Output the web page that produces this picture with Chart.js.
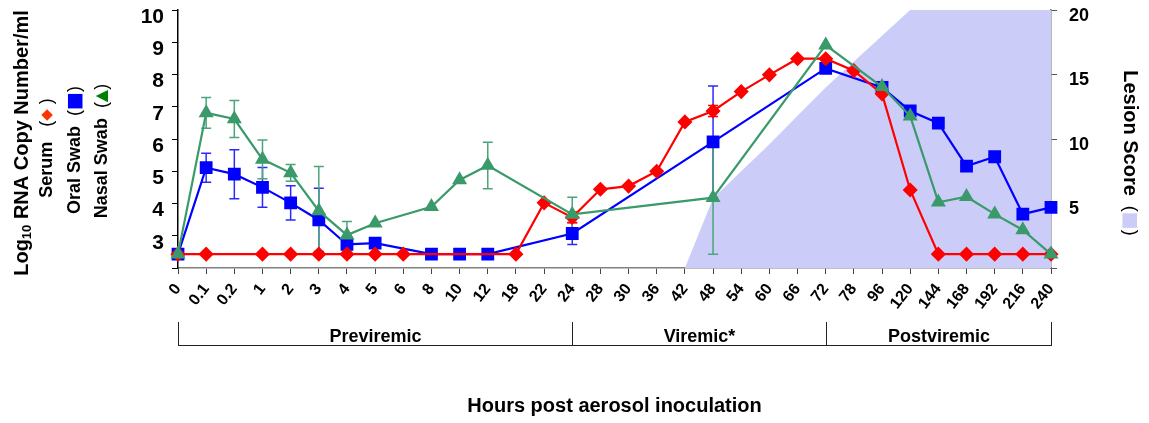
<!DOCTYPE html>
<html>
<head>
<meta charset="utf-8">
<script src="https://cdn.jsdelivr.net/npm/chart.js@4/dist/chart.umd.min.js"></script>
<style>
  body { margin: 0; background: #fff; }
  #wrap { position: relative; width: 1149px; height: 423px; }
</style>
</head>
<body>
<div id="wrap"><canvas id="myChart"></canvas></div>
<script>
// hours post inoculation (category axis, equally spaced)
var hours = ['0', '0.1', '0.2', '1', '2', '3', '4', '5', '6', '8', '10', '12', '18', '22', '24',
             '28', '30', '36', '42', '48', '54', '60', '66', '72', '78', '96', '120', '144', '168', '192', '216', '240'];

// log10 RNA copies/ml
var serum = [2.43, 2.43, null, 2.43, 2.43, 2.43, 2.43, 2.43, 2.43, null, null, null, 2.43, 4.02, 3.57,
             4.44, 4.54, 5.0, 6.53, 6.87, 7.47, 7.99, 8.49, 8.49, 8.12, 7.40, 4.42, 2.43, 2.43, 2.43, 2.43, 2.43];
var serumErr = [null, null, null, null, null, null, null, null, null, null, null, null, null, null, 0.17,
                null, null, null, null, 0.17, null, null, null, null, null, null, null, null, null, null, null, null];

var oral = [2.43, 5.11, 4.91, 4.50, 4.02, 3.49, 2.73, 2.77, null, 2.43, 2.43, 2.43, null, null, 3.07,
            null, null, null, null, 5.91, null, null, null, 8.19, null, 7.60, 6.87, 6.49, 5.16, 5.45, 3.67, 3.88];
var oralErr = [null, 0.45, 0.76, 0.62, 0.53, 0.98, null, null, null, null, null, null, null, null, 0.34,
               null, null, null, null, 1.73, null, null, null, null, null, null, null, null, null, null, null, null];

var nasal = [2.43, 6.81, 6.62, 5.37, 4.95, 3.77, 3.02, 3.39, null, 3.90, 4.73, 5.18, null, null, 3.66,
             null, null, null, null, 4.18, null, null, null, 8.91, null, 7.62, 6.71, 4.04, 4.21, 3.67, 3.18, 2.43];
var nasalErr = [null, 0.48, 0.57, 0.6, 0.26, 1.38, 0.42, null, null, null, null, 0.72, null, null, 0.53,
                null, null, null, null, 1.75, null, null, null, null, null, null, null, null, null, null, null, null];

// lesion score (right axis)
var lesion = [null, null, null, null, null, null, null, null, null, null, null, null, null, null, null,
              null, null, null, 0, 5.4, 7.5, 9.6, 11.8, 14.0, 16.0, 18.0, 20, 20, 20, 20, 20, 20];

// phases under the axis
var phaseNames = ['Previremic', 'Viremic*', 'Postviremic'];
var phaseBounds = ['0', '24', '72', '240'];

var RED = '#ff0000', BLUE = '#0000ff', GREEN = '#3a9a6a', LAV = '#ccccf9';
var FONT = '"Liberation Sans", Arial, "DejaVu Sans", sans-serif';

Chart.defaults.font.family = FONT;
Chart.defaults.color = '#000';

function drawErrors(chart, values, errs, color) {
    var ctx = chart.ctx, xs = chart.scales.x, ys = chart.scales.y;
    ctx.save();
    ctx.strokeStyle = color;
    ctx.lineWidth = 1.5;
    for (var i = 0; i < errs.length; i++) {
        if (errs[i] == null || values[i] == null) continue;
        var px = xs.getPixelForValue(i);
        var top = ys.getPixelForValue(values[i] + errs[i]);
        var bot = ys.getPixelForValue(values[i] - errs[i]);
        ctx.beginPath();
        ctx.moveTo(px, top); ctx.lineTo(px, bot);
        ctx.moveTo(px - 5, top); ctx.lineTo(px + 5, top);
        ctx.moveTo(px - 5, bot); ctx.lineTo(px + 5, bot);
        ctx.stroke();
    }
    ctx.restore();
}

// rotated text made of several coloured parts
function rotText(ctx, cx, cy, angle, parts) {
    ctx.save();
    ctx.translate(cx, cy);
    ctx.rotate(angle);
    ctx.textBaseline = 'middle';
    ctx.textAlign = 'left';
    var total = 0;
    parts.forEach(function (p) { ctx.font = p.font; p.w = ctx.measureText(p.t).width; total += p.w; });
    var x = -total / 2;
    parts.forEach(function (p) {
        ctx.font = p.font;
        ctx.fillStyle = p.color || '#000';
        ctx.fillText(p.t, x, p.dy || 0);
        x += p.w;
    });
    ctx.restore();
}

var overlay = {
    id: 'overlay',
    afterDatasetDraw: function (chart, args) {
        if (args.index !== 3) return; // right after the lesion fill
        drawErrors(chart, oral, oralErr, '#2a2aff');
        drawErrors(chart, nasal, nasalErr, '#4aa57a');
        drawErrors(chart, serum, serumErr, RED);
    },
    afterDraw: function (chart) {
        var ctx = chart.ctx, xs = chart.scales.x, area = chart.chartArea;
        var b = area.bottom;

        // phase brackets
        ctx.save();
        ctx.strokeStyle = '#222';
        ctx.lineWidth = 1;
        var px = phaseBounds.map(function (h) { return Math.round(xs.getPixelForValue(hours.indexOf(h))) + 0.5; });
        ctx.beginPath();
        ctx.moveTo(px[0], b + 77.5); ctx.lineTo(px[px.length - 1], b + 77.5);
        px.forEach(function (x) { ctx.moveTo(x, b + 54); ctx.lineTo(x, b + 78); });
        ctx.stroke();
        ctx.font = 'bold 18px ' + FONT;
        ctx.fillStyle = '#000';
        ctx.textAlign = 'center';
        ctx.textBaseline = 'alphabetic';
        phaseNames.forEach(function (n, i) { ctx.fillText(n, (px[i] + px[i + 1]) / 2, b + 74); });

        // x title
        ctx.font = 'bold 20px ' + FONT;
        ctx.textBaseline = 'middle';
        ctx.fillText('Hours post aerosol inoculation', (area.left + area.right) / 2, b + 138);
        ctx.restore();

        var big = 'bold 20px ' + FONT, mid = 'bold 18px ' + FONT, par = '18px ' + FONT;
        var ym = (area.top + area.bottom) / 2;
        rotText(ctx, 22, ym + 4, -Math.PI / 2, [
            { t: 'Log', font: big },
            { t: '10', font: 'bold 13px ' + FONT, dy: 5 },
            { t: ' RNA Copy Number/ml', font: big }
        ]);
        rotText(ctx, 47, ym + 9, -Math.PI / 2, [
            { t: 'Serum', font: mid }, { t: '   (', font: par },
            { t: '◆', font: '15px "DejaVu Sans"', color: '#ff3300' }, { t: ' )', font: par }
        ]);
        rotText(ctx, 75, ym + 11, -Math.PI / 2, [
            { t: 'Oral Swab', font: mid }, { t: '  (', font: par },
            { t: '■', font: '19px "DejaVu Sans"', color: BLUE }, { t: ')', font: par }
        ]);
        rotText(ctx, 102, ym + 12, -Math.PI / 2, [
            { t: 'Nasal Swab', font: mid }, { t: '  (', font: par },
            { t: '▲', font: '16px "DejaVu Sans"', color: '#008000' }, { t: ')', font: par }
        ]);
        rotText(ctx, 1130, ym + 14, Math.PI / 2, [
            { t: 'Lesion Score', font: big }, { t: '  (', font: par },
            { t: '■', font: '19px "DejaVu Sans"', color: LAV }, { t: ')', font: par }
        ]);
    }
};

var ctx = document.getElementById('myChart');

new Chart(ctx, {
    type: 'line',
    data: {
        labels: hours,
        datasets: [{
            label: 'Nasal Swab',
            data: nasal,
            borderColor: GREEN,
            backgroundColor: GREEN,
            borderWidth: 2.2,
            pointStyle: 'triangle',
            pointRadius: 6.5,
            spanGaps: true,
            yAxisID: 'y'
        }, {
            label: 'Serum',
            data: serum,
            borderColor: RED,
            backgroundColor: RED,
            borderWidth: 2.2,
            pointStyle: 'rectRot',
            pointRadius: 6,
            spanGaps: true,
            yAxisID: 'y'
        }, {
            label: 'Oral Swab',
            data: oral,
            borderColor: BLUE,
            backgroundColor: BLUE,
            borderWidth: 2.2,
            pointStyle: 'rect',
            pointRadius: 7.5,
            spanGaps: true,
            yAxisID: 'y'
        }, {
            label: 'Lesion Score',
            data: lesion,
            borderWidth: 0,
            borderColor: LAV,
            backgroundColor: LAV,
            pointRadius: 0,
            fill: 'origin',
            yAxisID: 'y2'
        }]
    },
    options: {
        responsive: true,
        maintainAspectRatio: false,
        animation: false,
        layout: {
            padding: { top: 10, left: 0, right: 0, bottom: 0 }
        },
        plugins: {
            legend: { display: false },
            tooltip: { enabled: false }
        },
        scales: {
            x: {
                offset: false,
                grid: { drawOnChartArea: false, drawTicks: true, tickLength: 6, color: '#444' },
                border: { color: '#808080', width: 1.5 },
                ticks: {
                    autoSkip: false,
                    minRotation: 52,
                    maxRotation: 52,
                    padding: 6,
                    font: { size: 16, weight: 'bold' }
                },
                afterFit: function (s) { s.height = 155; s.paddingLeft = 0; s.paddingRight = 0; }
            },
            y: {
                position: 'left',
                min: 2,
                max: 10,
                grid: { drawOnChartArea: false, tickLength: 6, color: '#000' },
                border: { color: '#000', width: 1.5 },
                ticks: {
                    stepSize: 1,
                    padding: 8,
                    labelOffset: 7,
                    font: { size: 21, weight: 'bold' },
                    callback: function (v) { return v === 2 ? '' : v; }
                },
                afterFit: function (s) { s.width = 178; s.paddingTop = 0; s.paddingBottom = 0; }
            },
            y2: {
                position: 'right',
                min: 0,
                max: 20,
                grid: { drawOnChartArea: false, tickLength: 6, color: '#555' },
                border: { color: '#707070', width: 1.5 },
                ticks: {
                    stepSize: 5,
                    padding: 12,
                    labelOffset: 6,
                    font: { size: 18, weight: 'bold' },
                    callback: function (v) { return v === 0 ? '' : v; }
                },
                afterFit: function (s) { s.width = 98; s.paddingTop = 0; s.paddingBottom = 0; }
            }
        }
    },
    plugins: [overlay]
});
</script>
</body>
</html>
